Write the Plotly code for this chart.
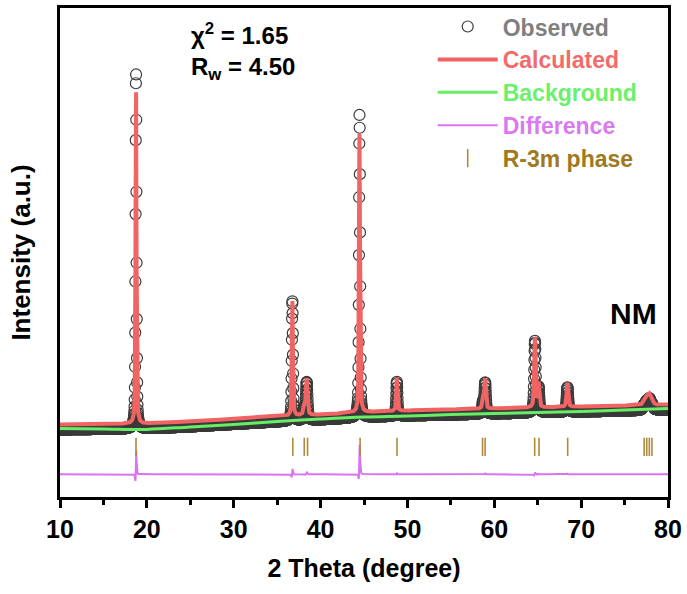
import numpy as np
import plotly.graph_objects as go

# ---- refinement data (2-theta in degrees, intensity in arbitrary units) ----
# Bragg reflections of the R-3m phase used in the refinement
peak_pos = [18.75, 36.75, 38.12, 38.40, 44.48, 48.78, 58.70, 58.95,
            64.68, 65.10, 68.42, 77.25, 77.55, 77.85, 78.15]
# calculated peak heights above the calculated baseline
calc_height = [3400, 1170, 110, 360, 2800, 333, 110, 300,
               700, 240, 243, 40, 70, 95, 45]
# observed peak heights above the observed baseline
obs_height = [3600, 1210, 115, 375, 3050, 342, 112, 307,
              715, 245, 247, 41, 71, 96, 46]
# observed peak positions (small offsets from the model)
obs_pos = [18.753, 36.753, 38.121, 38.403, 44.484, 48.781, 58.701, 58.951,
           64.682, 65.101, 68.421, 77.25, 77.55, 77.85, 78.15]
# peak widths (FWHM, degrees)
fwhm = [0.13, 0.15, 0.22, 0.22, 0.14, 0.17, 0.20, 0.20,
        0.20, 0.20, 0.22, 0.35, 0.35, 0.35, 0.35]

# baseline levels between peaks
base_x = [10, 15, 20, 25, 30, 35, 40, 45, 50, 55, 60, 65, 70, 75, 80]
calc_base_y = [130, 135, 140, 160, 185, 210, 230, 255, 270, 280, 290, 300, 310, 320, 330]
obs_base_y = [80, 85, 90, 110, 135, 160, 180, 205, 220, 230, 240, 250, 260, 270, 280]
# refined background
bg_y = [90, 85, 80, 105, 130, 160, 185, 205, 215, 230, 240, 250, 260, 275, 290]

# Bragg positions marked below the pattern
bragg_pos = [18.75, 36.80, 38.12, 38.50, 44.55, 48.80, 58.65, 58.95,
             64.65, 65.15, 68.45, 77.25, 77.55, 77.85, 78.15]

step = 0.02
diff_offset = -320      # vertical shift of the difference curve
bragg_level = -95       # vertical position of the Bragg markers

ink = "#3C3C3C"
red = "#F06464"
green = "#66EE66"
violet = "#D874F2"
gold = "#B08A3C"


def pseudo_voigt(x, x0, h, w, eta=0.5):
    d = (x - x0) / w
    lor = 1.0 / (1.0 + 4.0 * d * d)
    gau = np.exp(-4.0 * np.log(2.0) * d * d)
    return h * (eta * lor + (1.0 - eta) * gau)


tt = np.arange(10.0, 80.0 + step / 2, step)
calc = np.interp(tt, base_x, calc_base_y)
obs = np.interp(tt, base_x, obs_base_y)
for p, hc, po, ho, w in zip(peak_pos, calc_height, obs_pos, obs_height, fwhm):
    calc = calc + pseudo_voigt(tt, p, hc, w)
    obs = obs + pseudo_voigt(tt, po, ho, w * 0.97)
diff = obs - calc + diff_offset


def tag(text, color):
    return f"<span style='color:{color}'>{text}</span>"


fig = go.Figure()
fig.add_trace(go.Scatter(
    x=tt, y=obs, mode="markers", name=tag("Observed", "#7F7F7F"),
    marker=dict(symbol="circle-open", size=11, color=ink, line=dict(width=1.2, color=ink)),
))
fig.add_trace(go.Scatter(
    x=tt, y=calc, mode="lines", name=tag("Calculated", "#F26B6B"),
    line=dict(color=red, width=4),
))
fig.add_trace(go.Scatter(
    x=base_x, y=bg_y, mode="lines", name=tag("Background", "#6AF06A"),
    line=dict(color=green, width=3, shape="spline"),
))
fig.add_trace(go.Scatter(
    x=tt, y=diff, mode="lines", name=tag("Difference", "#D97AF0"),
    line=dict(color=violet, width=2),
))
fig.add_trace(go.Scatter(
    x=bragg_pos, y=[bragg_level] * len(bragg_pos), mode="markers",
    name=tag("R-3m phase", "#A0781E"),
    marker=dict(symbol="line-ns-open", size=13, color=gold, line=dict(width=1.6, color=gold)),
))

bold = "Liberation Sans, Arial, sans-serif"

fig.add_annotation(
    xref="paper", yref="paper", x=0.212, y=0.982, xanchor="left", yanchor="top",
    text="χ<sup>2</sup> = 1.65<br>R<sub>w</sub> = 4.50", showarrow=False, align="left",
    font=dict(family=bold, size=24, color="black", weight="bold"),
)
fig.add_annotation(
    xref="paper", yref="paper", x=0.944, y=0.376, xanchor="center", yanchor="middle",
    text="NM", showarrow=False,
    font=dict(family=bold, size=30, color="black", weight="bold"),
)

fig.update_layout(
    width=687, height=594,
    margin=dict(l=60, r=19, t=5, b=97),
    paper_bgcolor="white", plot_bgcolor="white",
    showlegend=True,
    legend=dict(
        x=0.613, y=1.006, xanchor="left", yanchor="top",
        bgcolor="rgba(0,0,0,0)", borderwidth=0,
        font=dict(family=bold, size=23, weight="bold"),
        itemwidth=60, tracegroupgap=0,
    ),
    xaxis=dict(
        range=[10, 80], dtick=10, tick0=10,
        showline=True, linecolor="black", linewidth=2.5, mirror=True,
        ticks="outside", ticklen=8, tickwidth=2.5, tickcolor="black",
        minor=dict(dtick=5, ticks="outside", ticklen=5, tickwidth=2.5, tickcolor="black"),
        showgrid=False, zeroline=False,
        tickfont=dict(family=bold, size=25, color="black", weight="bold"),
        title=dict(text="2 Theta (degree)", standoff=18,
                   font=dict(family=bold, size=25, color="black", weight="bold")),
    ),
    yaxis=dict(
        range=[-600, 4320],
        showline=True, linecolor="black", linewidth=2.5, mirror=True,
        ticks="", showticklabels=False, showgrid=False, zeroline=False,
        title=dict(text="Intensity (a.u.)", standoff=20,
                   font=dict(family=bold, size=26, color="black", weight="bold")),
    ),
)

fig.write_html("out.html")
